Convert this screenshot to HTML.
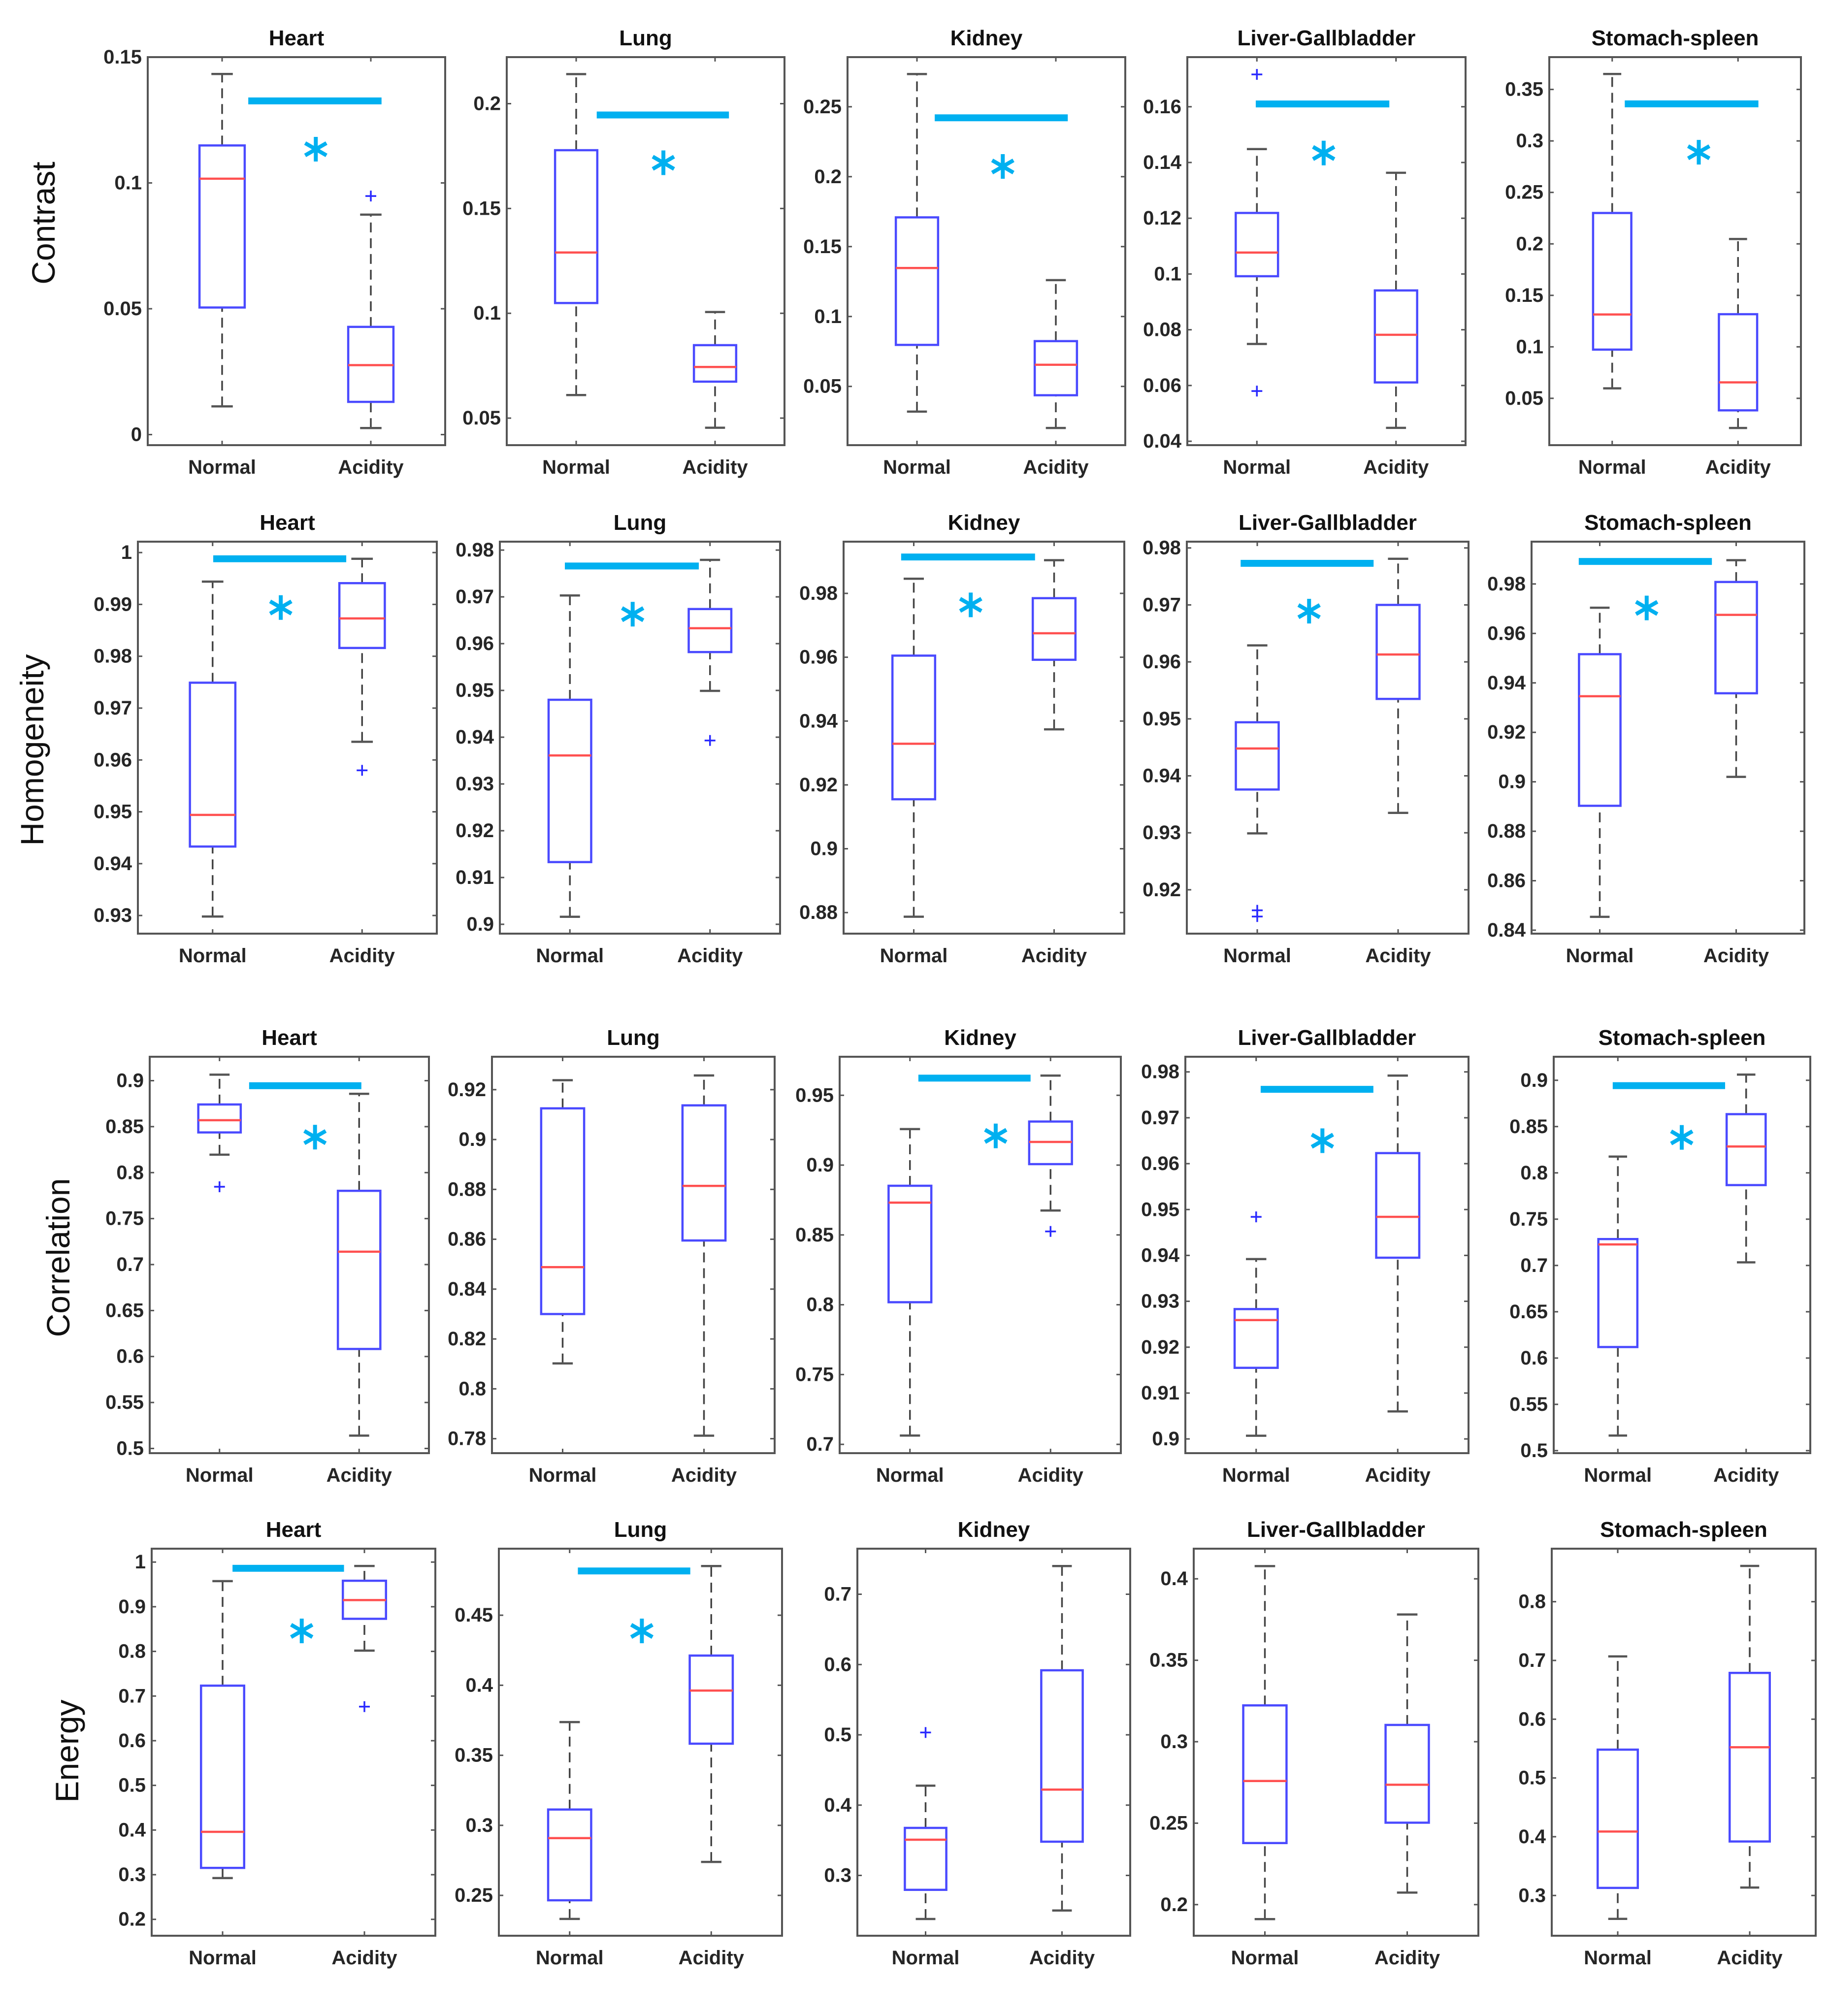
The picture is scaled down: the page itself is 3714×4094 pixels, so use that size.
<!DOCTYPE html>
<html><head><meta charset="utf-8">
<style>
html,body{margin:0;padding:0;background:#fff;}
svg{display:block;}
text{font-family:"Liberation Sans",Arial,sans-serif;}
</style></head>
<body>
<svg id="fig" xmlns="http://www.w3.org/2000/svg" width="3714" height="4094" viewBox="0 0 3714 4094"></svg>
<script>
const organs = ["Heart","Lung","Kidney","Liver-Gallbladder","Stomach-spleen"];
const features = ["Contrast","Homogeneity","Correlation","Energy"];
const groups = ["Normal","Acidity"];

// [whisker-low, q1, median, q3, whisker-high] per organ
const contrastNormal = [[0.0112,0.0505,0.1017,0.1149,0.1433],[0.0610,0.1049,0.1290,0.1778,0.2141],[0.0320,0.0797,0.1347,0.1709,0.2734],[0.0749,0.0992,0.1077,0.1219,0.1448],[0.0597,0.0973,0.1314,0.2300,0.3650]];
const contrastAcidity = [[0.0026,0.0130,0.0276,0.0428,0.0874],[0.0454,0.0674,0.0744,0.0848,0.1006],[0.0203,0.0437,0.0655,0.0824,0.1260],[0.0448,0.0611,0.0782,0.0941,0.1363],[0.0212,0.0383,0.0655,0.1317,0.2047]];
const homogNormal = [[0.9298,0.9433,0.9494,0.9749,0.9944],[0.9016,0.9133,0.9361,0.9480,0.9703],[0.8787,0.9155,0.9329,0.9605,0.9846],[0.9299,0.9376,0.9448,0.9494,0.9629],[0.8454,0.8903,0.9346,0.9516,0.9704]];
const homogAcidity = [[0.9635,0.9816,0.9873,0.9941,0.9988],[0.9499,0.9582,0.9633,0.9674,0.9779],[0.9374,0.9592,0.9675,0.9785,0.9904],[0.9335,0.9535,0.9613,0.9700,0.9781],[0.9020,0.9358,0.9675,0.9808,0.9896]];
const corrNormal = [[0.8195,0.8437,0.8570,0.8741,0.9065],[0.8102,0.8300,0.8488,0.9125,0.9238],[0.7063,0.8018,0.8731,0.8852,0.9258],[0.9007,0.9155,0.9259,0.9283,0.9392],[0.5163,0.6119,0.7227,0.7285,0.8176]];
const corrAcidity = [[0.5140,0.6082,0.7140,0.7802,0.8857],[0.7812,0.8595,0.8814,0.9137,0.9257],[0.8675,0.9007,0.9166,0.9312,0.9641],[0.9060,0.9395,0.9484,0.9623,0.9792],[0.7034,0.7868,0.8285,0.8634,0.9061]];
const energyNormal = [[0.2925,0.3152,0.3960,0.7233,0.9574],[0.2332,0.2465,0.2909,0.3113,0.3737],[0.2380,0.2795,0.3508,0.3676,0.4277],[0.1911,0.2378,0.2759,0.3223,0.4078],[0.2602,0.3129,0.4089,0.5482,0.7069]];
const energyAcidity = [[0.8018,0.8730,0.9149,0.9582,0.9912],[0.2739,0.3583,0.3962,0.4212,0.4851],[0.2501,0.3480,0.4221,0.5918,0.7401],[0.2074,0.2503,0.2736,0.3103,0.3781],[0.3135,0.3919,0.5523,0.6788,0.8609]];

const outNormal = [[[],[],[],[0.1716,0.0580],[]],[[],[],[],[0.9164,0.9153],[]],[[0.7846],[],[],[0.9484],[]],[[],[],[0.5033],[],[]]];
const outAcidity = [[[0.0948],[],[],[],[]],[[0.9580],[0.9393],[],[],[]],[[],[],[0.8525],[],[]],[[0.6763],[],[],[],[]]];

const yLimits = [
 [[-0.0042,0.1500],[0.0371,0.2222],[0.0080,0.2855],[0.0386,0.1778],[0.0045,0.3814]],
 [[0.9265,1.0021],[0.8980,0.9818],[0.8734,0.9962],[0.9123,0.9811],[0.8386,0.9971]],
 [[0.4949,0.9260],[0.7742,0.9332],[0.6937,0.9776],[0.8969,0.9833],[0.4973,0.9254]],
 [[0.1633,1.0300],[0.2212,0.4975],[0.2142,0.7648],[0.1809,0.4185],[0.2315,0.8902]]];

const yTicks = [
 [[0,0.05,0.1,0.15],[0.05,0.1,0.15,0.2],[0.05,0.1,0.15,0.2,0.25],[0.04,0.06,0.08,0.1,0.12,0.14,0.16],[0.05,0.1,0.15,0.2,0.25,0.3,0.35]],
 [[0.93,0.94,0.95,0.96,0.97,0.98,0.99,1],[0.9,0.91,0.92,0.93,0.94,0.95,0.96,0.97,0.98],[0.88,0.9,0.92,0.94,0.96,0.98],[0.92,0.93,0.94,0.95,0.96,0.97,0.98],[0.84,0.86,0.88,0.9,0.92,0.94,0.96,0.98]],
 [[0.5,0.55,0.6,0.65,0.7,0.75,0.8,0.85,0.9],[0.78,0.8,0.82,0.84,0.86,0.88,0.9,0.92],[0.7,0.75,0.8,0.85,0.9,0.95],[0.9,0.91,0.92,0.93,0.94,0.95,0.96,0.97,0.98],[0.5,0.55,0.6,0.65,0.7,0.75,0.8,0.85,0.9]],
 [[0.2,0.3,0.4,0.5,0.6,0.7,0.8,0.9,1],[0.25,0.3,0.35,0.4,0.45],[0.3,0.4,0.5,0.6,0.7],[0.2,0.25,0.3,0.35,0.4],[0.3,0.4,0.5,0.6,0.7,0.8]]];

// significance: [barStartFrac, barEndFrac, barValue, starFrac, starValue]
const sigContrast = [[0.338,0.786,0.1326,0.565,0.1134],[0.324,0.800,0.1946,0.564,0.1718],[0.314,0.793,0.2421,0.559,0.2073],[0.246,0.726,0.1610,0.490,0.1434],[0.300,0.831,0.3360,0.594,0.2890]];
const sigHomog = [[0.252,0.697,0.9988,0.478,0.9894],[0.232,0.710,0.9766,0.474,0.9663],[0.205,0.682,0.9914,0.453,0.9764],[0.191,0.663,0.9773,0.434,0.9689],[0.173,0.661,0.9891,0.422,0.9703]];
const sigCorr = [[0.356,0.758,0.8945,0.592,0.8386],null,[0.280,0.679,0.9623,0.555,0.9209],[0.266,0.664,0.9762,0.484,0.9650],[0.230,0.668,0.8942,0.499,0.8383]];
const sigEnergy = [[0.285,0.678,0.9861,0.529,0.8459],[0.279,0.676,0.4816,0.505,0.4388],null,null,null];

// layout (pixels)
const rowTop = [116,1100,2146,3145];
const rowBottom = [904,1896,2951,3931];
const colLeft = [[300,1029,1721,2411,3146],[280,1015,1713,2410,3110],[304,999,1705,2407,3155],[308,1013,1741,2424,3151]];
const colRight = [[904,1593,2285,2976,3657],[887,1584,2283,2982,3664],[871,1573,2276,2982,3676],[884,1588,2295,3002,3687]];
const rowLabelPos = [[88,453],[65,1523],[118,2554],[136,3556]];

const normalStats = [contrastNormal,homogNormal,corrNormal,energyNormal];
const acidityStats = [contrastAcidity,homogAcidity,corrAcidity,energyAcidity];
const sigs = [sigContrast,sigHomog,sigCorr,sigEnergy];

const NS = "http://www.w3.org/2000/svg";
const svg = document.getElementById("fig");
function mk(tag, attrs, parent){
  const e = document.createElementNS(NS, tag);
  for (const k in attrs) e.setAttribute(k, attrs[k]);
  (parent||svg).appendChild(e);
  return e;
}
function fmt(v){ return String(parseFloat(v.toFixed(4))); }

for (let r=0;r<4;r++){
  const rl = mk("text",{x:rowLabelPos[r][0],y:rowLabelPos[r][1],"font-size":66,"text-anchor":"middle","dominant-baseline":"central",fill:"#111",transform:`rotate(-90 ${rowLabelPos[r][0]} ${rowLabelPos[r][1]})`});
  
  
  rl.textContent = features[r];

  for (let c=0;c<5;c++){
    const x0=colLeft[r][c], x1=colRight[r][c], y0=rowTop[r], y1=rowBottom[r];
    const W=x1-x0;
    const lim=yLimits[r][c];
    const Y = v => y1 - (v-lim[0])/(lim[1]-lim[0])*(y1-y0);
    const X = f => x0 + f*W;
    const catX = i => x0 + (i+0.5)/2*W;
    const g = mk("g",{});
    
    

    const t = mk("text",{x:(x0+x1)/2,y:y0-24,"font-size":44,"font-weight":"bold","text-anchor":"middle",fill:"#111"},g);
    
    
    t.textContent = organs[c];

    yTicks[r][c].forEach(v=>{
      const yy=Y(v);
      mk("line",{x1:x0,y1:yy,x2:x0+9,y2:yy,stroke:"#555","stroke-width":3},g);
      mk("line",{x1:x1-9,y1:yy,x2:x1,y2:yy,stroke:"#555","stroke-width":3},g);
      const tl = mk("text",{x:x0-12,y:yy,"font-size":40,"font-weight":"bold","text-anchor":"end","dominant-baseline":"central",fill:"#262626"},g);
      
      
      tl.textContent = fmt(v);
    });
    groups.forEach((gn,i)=>{
      const cx=catX(i);
      mk("line",{x1:cx,y1:y1,x2:cx,y2:y1-9,stroke:"#555","stroke-width":3},g);
      mk("line",{x1:cx,y1:y0,x2:cx,y2:y0+9,stroke:"#555","stroke-width":3},g);
      const xl = mk("text",{x:cx,y:y1+58,"font-size":40,"font-weight":"bold","text-anchor":"middle",fill:"#262626"},g);
      
      
      xl.textContent = gn;
    });

    [normalStats[r][c], acidityStats[r][c]].forEach((s,i)=>{
      const cx=catX(i), bw=0.152*W, cap=0.072*W;
      const bg = mk("g",{},g);
      
      
      mk("line",{x1:cx,y1:Y(s[3]),x2:cx,y2:Y(s[4]),stroke:"#444","stroke-width":3.5,"stroke-dasharray":"20 12"},bg);
      mk("line",{x1:cx,y1:Y(s[0]),x2:cx,y2:Y(s[1]),stroke:"#444","stroke-width":3.5,"stroke-dasharray":"20 12"},bg);
      mk("line",{x1:cx-cap/2,y1:Y(s[4]),x2:cx+cap/2,y2:Y(s[4]),stroke:"#555","stroke-width":4.5},bg);
      mk("line",{x1:cx-cap/2,y1:Y(s[0]),x2:cx+cap/2,y2:Y(s[0]),stroke:"#555","stroke-width":4.5},bg);
      mk("rect",{x:cx-bw/2,y:Y(s[3]),width:bw,height:Y(s[1])-Y(s[3]),fill:"none",stroke:"#4a4aff","stroke-width":4.5},bg);
      mk("line",{x1:cx-bw/2,y1:Y(s[2]),x2:cx+bw/2,y2:Y(s[2]),stroke:"#ff5050","stroke-width":4.5},bg);
      const outs = i===0 ? outNormal[r][c] : outAcidity[r][c];
      outs.forEach(o=>{
        const oy=Y(o);
        const op = mk("g",{},bg);
        
        
        mk("line",{x1:cx-11,y1:oy,x2:cx+11,y2:oy,stroke:"#2a2aff","stroke-width":3.5},op);
        mk("line",{x1:cx,y1:oy-11,x2:cx,y2:oy+11,stroke:"#2a2aff","stroke-width":3.5},op);
      });
    });

    const sg = sigs[r][c];
    if (sg){
      const bar = mk("rect",{x:X(sg[0]),y:Y(sg[2])-7,width:X(sg[1])-X(sg[0]),height:14,fill:"#00b0f0"},g);
      
      
      const sx=X(sg[3]), sy=Y(sg[4]), R=25;
      const st = mk("g",{stroke:"#00b0f0","stroke-width":8},g);
      
      
      [90,30,150].forEach(a=>{
        const rad=a*Math.PI/180, dx=R*Math.cos(rad), dy=R*Math.sin(rad);
        mk("line",{x1:sx-dx,y1:sy-dy,x2:sx+dx,y2:sy+dy},st);
      });
    }

    const fr = mk("rect",{x:x0,y:y0,width:W,height:y1-y0,fill:"none",stroke:"#555","stroke-width":4},g);
    
    
  }
}
</script>
</body></html>
